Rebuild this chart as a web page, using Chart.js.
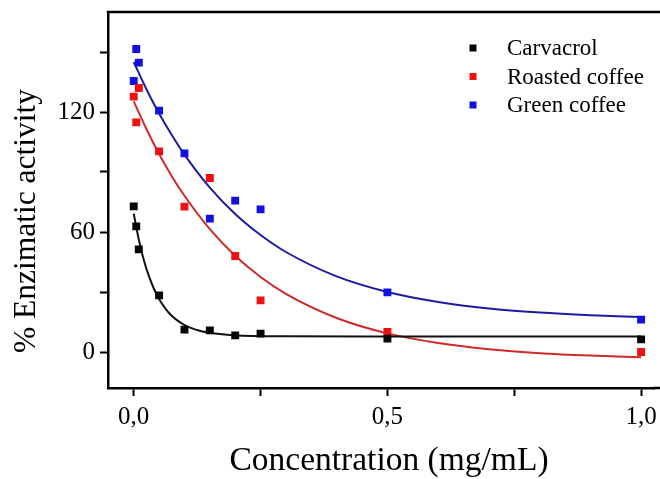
<!DOCTYPE html>
<html>
<head>
<meta charset="utf-8">
<script src="https://cdn.jsdelivr.net/npm/chart.js@4"></script>
<style>
  body { margin: 0; background: #fff; }
  canvas { display: block; }
</style>
</head>
<body>
<canvas id="enzyme-chart" width="660" height="479"></canvas>
<script>
// measured points
const concentrations = [0, 0.005, 0.01, 0.05, 0.1, 0.15, 0.2, 0.25, 0.5, 1.0];
const carvacrol = [72.8, 62.8, 51.3, 28.3, 11.2, 10.8, 8.3, 9.2, 6.7, 6.3];
const roastedCoffee = [127.7, 114.8, 132, 100.3, 72.7, 87, 48, 25.8, 10, 0];
const greenCoffee = [135.5, 151.5, 144.7, 120.7, 99.3, 66.7, 75.7, 71.3, 29.8, 16.2];

// fitted curves
const fitX = [0, 0.025, 0.05, 0.075, 0.1, 0.15, 0.2, 0.25, 0.3, 0.4, 0.5, 0.6, 0.7, 0.8, 0.9, 1.0];
const roastedFit = [125.3, 111.5, 99.0, 87.9, 78.1, 61.4, 48.1, 37.5, 29.1, 17.0, 9.3, 4.5, 1.4, -0.6, -1.8, -2.6];
const greenFit = [145, 131.4, 119.3, 108.5, 98.7, 82.2, 69.0, 58.5, 50.0, 37.8, 30.0, 25.0, 21.7, 19.7, 18.4, 17.5];
const carvacrolFitX = [0, 0.01, 0.02, 0.03, 0.04, 0.05, 0.07, 0.1, 0.13, 0.16, 0.2, 0.3, 0.5, 1.0];
const carvacrolFit = [69.2, 56.2, 45.9, 37.9, 31.5, 26.5, 19.4, 13.5, 10.6, 9.2, 8.3, 7.9, 7.8, 7.8];

const xTicks = [0, 0.25, 0.5, 0.75, 1.0];
const xTickLabels = ["0,0", "", "0,5", "", "1,0"];
const yTicks = [0, 30, 60, 90, 120, 150];
const yTickLabels = ["0", "", "60", "", "120", ""];

const xTitle = "Concentration (mg/mL)";
const yTitle = "% Enzimatic activity";

const serif = "'Liberation Serif', 'Times New Roman', serif";

const toPoints = (xs, ys) => xs.map((x, i) => ({ x, y: ys[i] }));

const markerSet = (label, ys, color) => ({
  label,
  data: toPoints(concentrations, ys),
  backgroundColor: color,
  borderColor: color,
  pointStyle: "rect",
  pointRadius: 5.6,
  pointBorderWidth: 0,
  showLine: false,
  order: 1,
});

const fitSet = (xs, ys, color) => ({
  label: "",
  data: toPoints(xs, ys),
  borderColor: color,
  borderWidth: 2,
  pointRadius: 0,
  showLine: true,
  cubicInterpolationMode: "monotone",
  isFit: true,
  order: 2,
});

const datasets = [
  markerSet("Carvacrol", carvacrol, "#050505"),
  markerSet("Roasted coffee", roastedCoffee, "#ee1111"),
  markerSet("Green coffee", greenCoffee, "#1111e0"),
  fitSet(carvacrolFitX, carvacrolFit, "#111111"),
  fitSet(fitX, roastedFit, "#cf2a2a"),
  fitSet(fitX, greenFit, "#1c1ca0"),
];

// no extra padding from tick labels, the frame is pinned by layout
const noPadding = (s) => {
  s.paddingTop = 0;
  s.paddingBottom = 0;
  s.paddingLeft = 0;
  s.paddingRight = 0;
};

// frame (runs off the right edge like the source), axis titles and the legend box
const extras = {
  id: "extras",
  afterDraw(chart) {
    const { ctx, chartArea: a } = chart;
    ctx.save();
    ctx.strokeStyle = "#000";
    ctx.lineWidth = 2.5;
    ctx.beginPath();
    ctx.moveTo(a.left - 1.25, a.top);
    ctx.lineTo(chart.width, a.top);
    ctx.moveTo(a.right - 1, a.bottom);
    ctx.lineTo(chart.width, a.bottom);
    ctx.stroke();

    ctx.fillStyle = "#000";
    ctx.textAlign = "center";
    ctx.font = "33.5px " + serif;
    ctx.textBaseline = "alphabetic";
    ctx.fillText(xTitle, 389, 470);

    ctx.font = "31.5px " + serif;
    ctx.textBaseline = "middle";
    ctx.translate(27, 221);
    ctx.rotate(-Math.PI / 2);
    ctx.fillText(yTitle, 0, 0);
    ctx.restore();

    ctx.save();
    ctx.font = "23px " + serif;
    ctx.textBaseline = "middle";
    ctx.textAlign = "left";
    chart.data.datasets
      .filter((d) => !d.isFit)
      .forEach((d, i) => {
        const y = 48 + i * 28.5;
        ctx.fillStyle = d.backgroundColor;
        ctx.fillRect(469.5, y - 3.5, 7, 7);
        ctx.fillStyle = "#000";
        ctx.fillText(d.label, 507, y + 1);
      });
    ctx.restore();
  },
};

new Chart(document.getElementById("enzyme-chart").getContext("2d"), {
  type: "scatter",
  data: { datasets },
  plugins: [extras],
  options: {
    responsive: false,
    animation: false,
    devicePixelRatio: 1,
    layout: { padding: { top: 12, right: 0, left: 0, bottom: 0 } },
    plugins: {
      legend: { display: false },
      tooltip: { enabled: false },
    },
    scales: {
      x: {
        type: "linear",
        min: -0.0507,
        max: 1.0262,
        afterBuildTicks: (s) => { s.ticks = xTicks.map((v) => ({ value: v })); },
        afterFit: (s) => { s.height = 91; noPadding(s); },
        ticks: {
          autoSkip: false,
          maxRotation: 0,
          padding: 6,
          color: "#000",
          font: { family: serif, size: 25 },
          callback: (v) => xTickLabels[xTicks.indexOf(v)],
        },
        grid: { drawOnChartArea: false, tickLength: 8, tickWidth: 2, tickColor: "#000" },
        border: { color: "#000", width: 2.5 },
      },
      y: {
        min: -18,
        max: 170,
        afterBuildTicks: (s) => { s.ticks = yTicks.map((v) => ({ value: v })); },
        afterFit: (s) => { s.width = 108; noPadding(s); },
        ticks: {
          autoSkip: false,
          padding: 5,
          color: "#000",
          font: { family: serif, size: 25 },
          callback: (v) => yTickLabels[yTicks.indexOf(v)],
        },
        grid: { drawOnChartArea: false, tickLength: 8, tickWidth: 2, tickColor: "#000" },
        border: { color: "#000", width: 2.5 },
      },
    },
  },
});
</script>
</body>
</html>
